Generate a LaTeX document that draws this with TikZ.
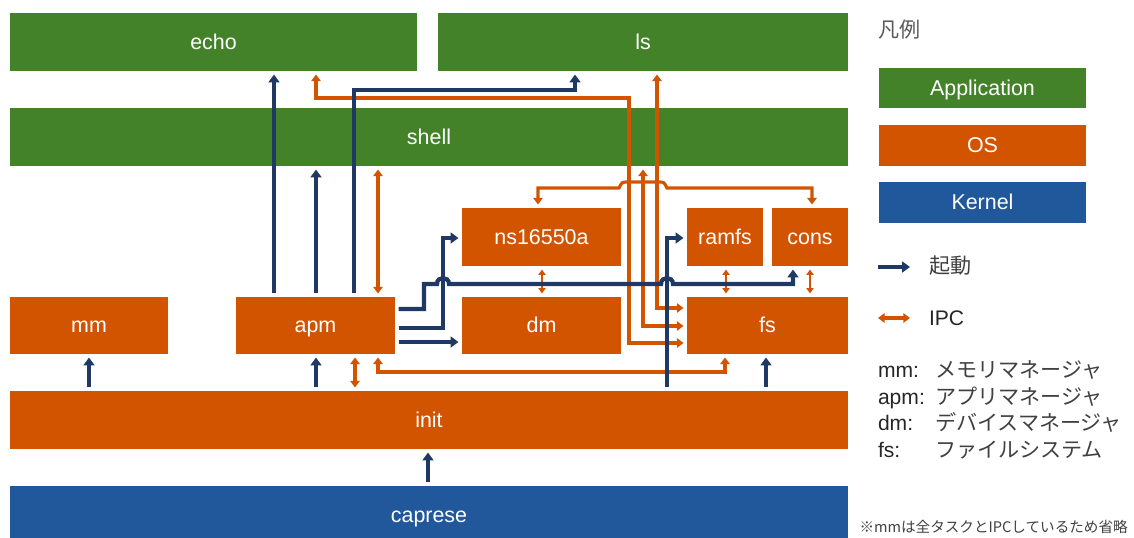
\documentclass[tikz,border=0pt]{standalone}
\usepackage{fontspec}
\setmainfont{Liberation Sans}
\newfontfamily\jp{Noto Sans CJK JP}
\usetikzlibrary{arrows.meta}
\definecolor{appgreen}{HTML}{44822A}
\definecolor{osorange}{HTML}{D35400}
\definecolor{kblue}{HTML}{21579B}
\definecolor{navy}{HTML}{1F3864}
\definecolor{legendgray}{HTML}{595959}
\definecolor{txtdark}{HTML}{262626}
\definecolor{jpgray}{HTML}{404040}
\begin{document}
\begin{tikzpicture}[x=0.02cm,y=-0.02cm,
  box/.style={rectangle, inner sep=0pt, outer sep=0pt, text=white, font=\fontsize{12.2}{14}\selectfont, text height=0.8em, text depth=0pt},
  appbox/.style={box, fill=appgreen},
  osbox/.style={box, fill=osorange},
  kbox/.style={box, fill=kblue},
  launch/.style={draw=navy, line width=2.4pt, -{Triangle[length=4.5pt,width=6.2pt]}, shorten >=2pt, shorten <=2pt},
  ipc/.style={draw=osorange, line width=1.8pt, {Triangle[length=3.8pt,width=5.4pt]}-{Triangle[length=3.8pt,width=5.4pt]}, shorten >=2pt, shorten <=2pt},
  ipcthin/.style={ipc, line width=1.1pt, {Triangle[length=3pt,width=4pt]}-{Triangle[length=3pt,width=4pt]}},
  legtxt/.style={inner sep=0pt, outer sep=0pt, font=\fontsize{12}{14}\selectfont},
  jptxt/.style={legtxt, font=\jp\fontsize{12}{14}\selectfont, text=jpgray},
]
\useasboundingbox (0,0) rectangle (1134,538);
\clip (0,0) rectangle (1134,538);

% boxes (sizes: 1px = 0.02cm)
\node[appbox, minimum width=8.14cm, minimum height=1.16cm] (echo) at (213.5,42) {echo};
\node[appbox, minimum width=8.2cm, minimum height=1.16cm] (ls) at (643,42) {ls};
\node[appbox, minimum width=16.76cm, minimum height=1.16cm] (shell) at (429,137) {shell};
\node[osbox, minimum width=3.18cm, minimum height=1.16cm] (ns) at (541.5,237) {ns16550a};
\node[osbox, minimum width=1.52cm, minimum height=1.16cm] (ramfs) at (725,237) {ramfs};
\node[osbox, minimum width=1.52cm, minimum height=1.16cm] (cons) at (810,237) {cons};
\node[osbox, minimum width=3.16cm, minimum height=1.14cm] (mm) at (89,325.5) {mm};
\node[osbox, minimum width=3.18cm, minimum height=1.14cm] (apm) at (315.5,325.5) {apm};
\node[osbox, minimum width=3.18cm, minimum height=1.14cm] (dm) at (541.5,325.5) {dm};
\node[osbox, minimum width=3.22cm, minimum height=1.14cm] (fs) at (767.5,325.5) {fs};
\node[osbox, minimum width=16.76cm, minimum height=1.16cm] (init) at (429,420) {init};
\node[kbox, minimum width=16.76cm, minimum height=1.16cm] (caprese) at (429,515) {caprese};

% helper coordinates
\foreach \v in {89,316,428,766,274,354,575,90,309,424,284,443,667,793,328,238,342,378,355,372,725,542,726,810,98,629,343,643,326,657,308,538,188,812}
  \coordinate (p\v) at (\v,\v);

% IPC
\draw[ipc] (apm.north -| p378) -- (shell.south -| p378);
\draw[ipc] (apm.south -| p355) -- (init.north -| p355);
\draw[ipc] (apm.south -| p378) -- (p378 |- p372) -- (p725 |- p372) -- (fs.south -| p725);
\draw[ipcthin] (ns.south -| p542) -- (dm.north -| p542);
\draw[ipcthin] (ramfs.south -| p726) -- (fs.north -| p726);
\draw[ipcthin] (cons.south -| p810) -- (fs.north -| p810);
\draw[ipc] (echo.south -| p316) -- (p316 |- p98) -- (p629 |- p98) -- (p629 |- p343) -- (fs.west |- p343);
\draw[ipc] (shell.south -| p643) -- (p643 |- p326) -- (fs.west |- p326);
\draw[ipc] (ls.south -| p657) -- (p657 |- p308) -- (fs.west |- p308);
\draw[ipc] (ns.north -| p538) -- (p538 |- p188) -- (619,188) .. controls (622,182) .. (628,182) -- (658,182) .. controls (664,182) .. (667,188) -- (p812 |- p188) -- (cons.north -| p812);

% launches
\draw[launch] (init.north -| p89) -- (mm.south -| p89);
\draw[launch] (init.north -| p316) -- (apm.south -| p316);
\draw[launch] (caprese.north -| p428) -- (init.south -| p428);
\draw[launch] (init.north -| p766) -- (fs.south -| p766);
\draw[launch] (apm.north -| p274) -- (echo.south -| p274);
\draw[launch] (apm.north -| p316) -- (shell.south -| p316);
\draw[launch] (apm.north -| p354) -- (p354 |- p90) -- (p575 |- p90) -- (ls.south -| p575);
\draw[launch] (apm.east |- p309) -- (p424 |- p309) -- (p424 |- p284) -- (437,284) .. controls (437,276) and (449,276) .. (449,284) -- (661,284) .. controls (661,276) and (673,276) .. (673,284) -- (p793 |- p284) -- (cons.south -| p793);
\draw[launch] (apm.east |- p328) -- (p443 |- p328) -- (p443 |- p238) -- (ns.west |- p238);
\draw[launch] (apm.east |- p342) -- (dm.west |- p342);
\draw[launch] (init.north -| p667) -- (p667 |- p238) -- (ramfs.west |- p238);

% legend
\node[jptxt, anchor=west, text=legendgray] (legtitle) at (878,30) {凡例};
\node[appbox, minimum width=4.14cm, minimum height=0.8cm] (lapp) at (982.5,88) {Application};
\node[osbox, minimum width=4.14cm, minimum height=0.82cm] (los) at (982.5,145.5) {OS};
\node[kbox, minimum width=4.14cm, minimum height=0.82cm] (lkern) at (982.5,202.5) {Kernel};
\coordinate (la1) at (878,267);
\coordinate (la2) at (910,267);
\draw[launch, shorten >=0pt, shorten <=0pt] (la1) -- (la2);
\node[jptxt, anchor=west] (lstart) at (929,266) {起動};
\coordinate (li1) at (878,318);
\coordinate (li2) at (910,318);
\draw[ipc, shorten >=0pt, shorten <=0pt] (li1) -- (li2);
\node[legtxt, anchor=west, text=txtdark] (lipc) at (929,318) {IPC};

\node[legtxt, anchor=base west, text=txtdark] (amm) at (878,377) {mm:};
\node[jptxt, anchor=base west] (jmm) at (935,377) {メモリマネージャ};
\node[legtxt, anchor=base west, text=txtdark] (aapm) at (878,404) {apm:};
\node[jptxt, anchor=base west] (japm) at (935,404) {アプリマネージャ};
\node[legtxt, anchor=base west, text=txtdark] (adm) at (878,430) {dm:};
\node[jptxt, anchor=base west] (jdm) at (935,430) {デバイスマネージャ};
\node[legtxt, anchor=base west, text=txtdark] (afs) at (878,457) {fs:};
\node[jptxt, anchor=base west] (jfs) at (935,457) {ファイルシステム};

\node[inner sep=0pt, anchor=east, font=\jp\fontsize{8.3}{10}\selectfont, text=jpgray] (note) at (1128,527) {※mmは全タスクとIPCしているため省略};
\end{tikzpicture}
\end{document}
